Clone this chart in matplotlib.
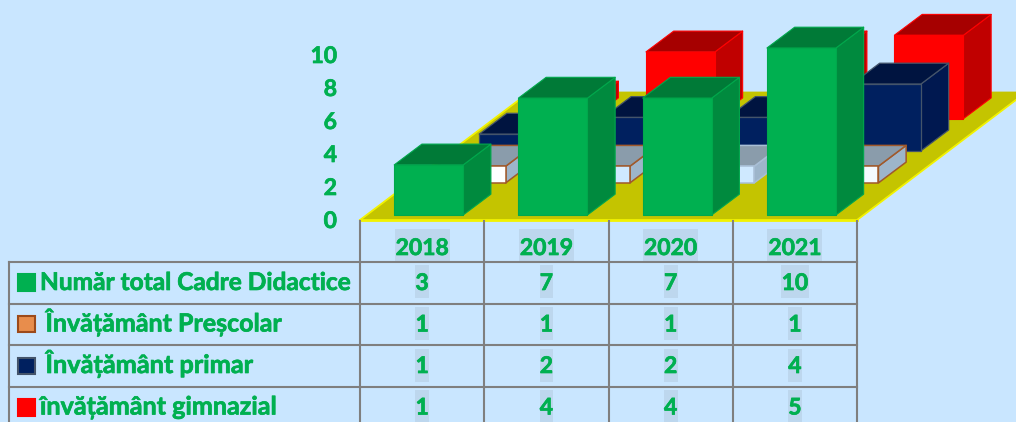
import matplotlib
matplotlib.use("Agg")
import matplotlib.pyplot as plt
import matplotlib.patheffects as pe
from matplotlib.patches import Polygon, Rectangle

years = ["2018", "2019", "2020", "2021"]
series_names = ["Număr total Cadre Didactice", "Învățământ Preșcolar", "Învățământ primar", "învățământ gimnazial"]
total = [3, 7, 7, 10]
prescolar = [1, 1, 1, 1]
primar = [1, 2, 2, 4]
gimnazial = [1, 4, 4, 5]
y_ticks = [0, 2, 4, 6, 8, 10]

all_series = [total, prescolar, primar, gimnazial]
BG = "#C9E6FF"; GREEN = "#00B050"; GRID = "#7F7F7F"; HI = "#BDD7EE"
plt.rcParams["font.family"] = ["Lato", "DejaVu Sans"]
styles = [
    dict(front="#00B050", top="#007A37", side="#008A3E", edge="#00A84C", lw=0.8),
    dict(front="#F4FAFF", top="#8A9CAB", side="#9DB5CA", edge="#A0592B", lw=1.1),
    dict(front="#00205F", top="#001440", side="#001850", edge="#44546A", lw=0.9),
    dict(front="#FF0000", top="#A60000", side="#C00000", edge="#FF0000", lw=0.8),
]
pres_front = ["#FFFFFF", "#CFE9FF", "#CFE9FF", "#F4FAFF"]
pres_edge = ["#A0592B", "#A0592B", "#A9BFD6", "#A0592B"]
legend_style = [("#00B050", "#00B050"), ("#E88D4C", "#9C4A1A"), ("#00205F", "#44546A"), ("#FF0000", "#FF0000")]

W, H = 1016, 422
fig = plt.figure(figsize=(W/100, H/100), dpi=100, facecolor=BG)
ax = fig.add_axes([0, 0, 1, 1]); ax.set_xlim(0, W); ax.set_ylim(H, 0); ax.axis("off")

x0, x1, y_floor = 360, 857, 220
cat_w = (x1 - x0) / len(years)
row_dx, row_dy = 42.5, 32.1
unit = 16.7
bar_w, depth_x, depth_y = 69, 27.7, 20.8
margin_x, margin_y = 34.2, 5

fl = [(x0, y_floor), (x1, y_floor), (x1 + row_dx*4, y_floor - row_dy*4), (x0 + row_dx*4, y_floor - row_dy*4)]
ax.add_patch(Polygon(fl, closed=True, fc="#C4C400", ec="none", zorder=1))
ax.plot([fl[3][0], fl[0][0]], [fl[3][1], fl[0][1]], color="#F2F200", lw=1.3, zorder=1.1)
ax.plot([fl[1][0], fl[2][0]], [fl[1][1], fl[2][1]], color="#F2F200", lw=1.3, zorder=1.1)
ax.plot([fl[0][0], fl[1][0]], [fl[0][1], fl[1][1]], color="#F2F200", lw=2, zorder=1.1)

z = 2
for s in range(3, -1, -1):
    st = styles[s]
    for c, v in enumerate(all_series[s]):
        l = x0 + c*cat_w + margin_x + s*row_dx
        r = l + bar_w
        b = y_floor - margin_y - s*row_dy
        t = b - v*unit
        front = pres_front[c] if s == 1 else st["front"]
        edge = pres_edge[c] if s == 1 else st["edge"]
        kw = dict(closed=True, ec=edge, lw=st["lw"], zorder=z, joinstyle="round")
        ax.add_patch(Polygon([(r, b), (r + depth_x, b - depth_y), (r + depth_x, t - depth_y), (r, t)], fc=st["side"], **kw))
        ax.add_patch(Polygon([(l, t), (r, t), (r + depth_x, t - depth_y), (l + depth_x, t - depth_y)], fc=st["top"], **kw))
        ax.add_patch(Polygon([(l, b), (r, b), (r, t), (l, t)], fc=front, **kw))
        z += 1

FS = 16.5
bold = [pe.withStroke(linewidth=0.5, foreground=GREEN)]
def label(x, y, txt, ha="center", size=FS):
    return ax.text(x, y, txt, ha=ha, va="baseline", color=GREEN, fontsize=size,
                   fontweight="bold", zorder=50, path_effects=bold)

def highlight(cx, top, bottom, txt):
    w = 13.75 * len(txt)
    ax.add_patch(Rectangle((cx - w/2, top), w, bottom - top, fc=HI, ec="none", zorder=30))

for v in y_ticks:
    label(337, 228 - v*16.5, str(v), ha="right")

rows = [262, 303.5, 345, 387, 428.5]
baselines = [290, 331.5, 373, 414.5]
for c in range(len(years) + 1):
    ax.plot([x0 + c*cat_w]*2, [y_floor + 1, H], color=GRID, lw=1.5, zorder=40)
ax.plot([9, 9], [rows[0], H], color=GRID, lw=1.5, zorder=40)
for y in rows[:-1]:
    ax.plot([9, x1], [y, y], color=GRID, lw=1.5, zorder=40)

for c, yr in enumerate(years):
    cx = x0 + (c + .5)*cat_w
    highlight(cx, 229, 261, yr)
    label(cx, 255, yr)
    for r, s in enumerate(all_series):
        ym = (rows[r] + rows[r+1])/2
        highlight(cx, ym - 17.5, ym + 15.5, str(s[c]))
        label(cx, baselines[r], str(s[c]))

name_x = [40, 45.5, 45.5, 40]
name_size = [17.6, 18.0, 18.2, 18.1]
for r, nm in enumerate(series_names):
    ym = (rows[r] + rows[r+1])/2
    fc, ec = legend_style[r]
    ax.add_patch(Rectangle((18, ym - 8.5), 16.5, 16.5, fc=fc, ec=ec, lw=1.5, zorder=45))
    label(name_x[r], baselines[r], nm, ha="left", size=name_size[r])

fig.savefig("out.png", dpi=100, facecolor=BG)
